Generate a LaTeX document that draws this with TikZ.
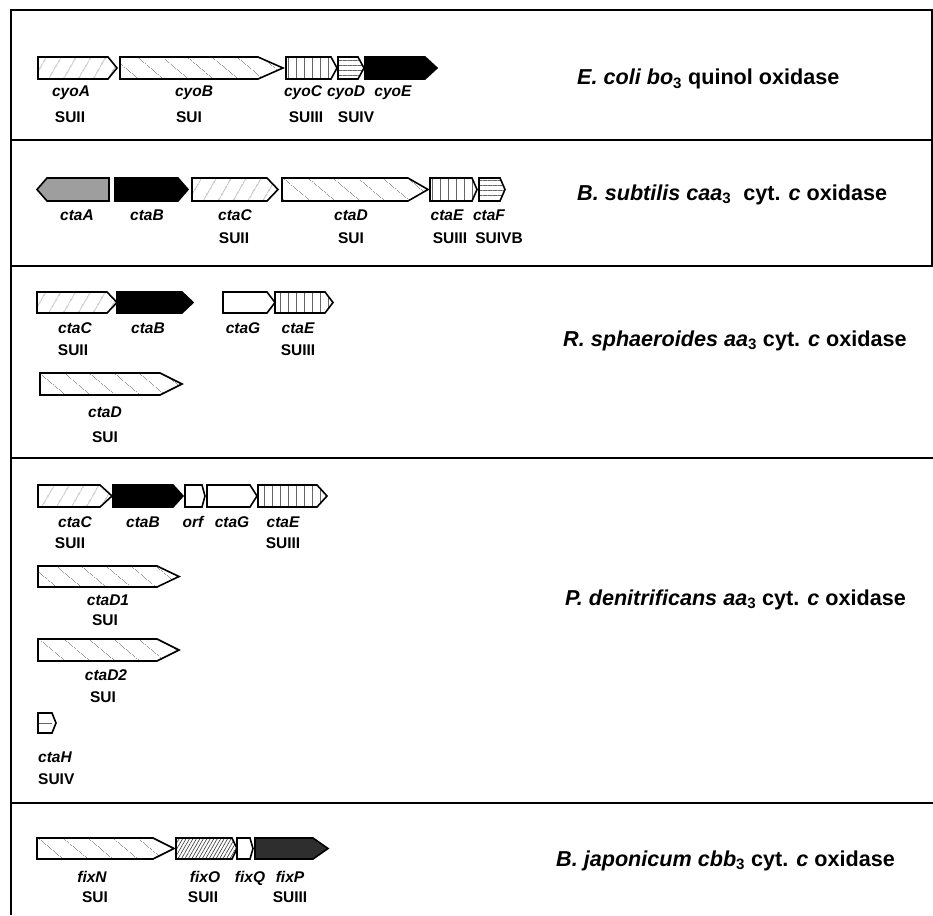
\documentclass[tikz,border=0pt]{standalone}
\usepackage{fontspec}
\setmainfont{Liberation Sans}
\usetikzlibrary{patterns.meta}

% gene arrow pointing right: [style]{x start}{x body end}{x tip}{y top}{y bottom}
\newcommand{\gene}[6][]{%
  \draw[genebox,#1] (#2,#5) -- (#3,#5) -- (#4,{(#5+#6)/2}) -- (#3,#6) -- (#2,#6) -- cycle;}
% gene arrow pointing left: [style]{x tip}{x body start}{x end}{y top}{y bottom}
\newcommand{\geneleft}[6][]{%
  \draw[genebox,#1] (#2,{(#5+#6)/2}) -- (#3,#5) -- (#4,#5) -- (#4,#6) -- (#3,#6) -- cycle;}

\begin{document}
\begin{tikzpicture}[
  x=1pt, y=-1pt,
  frame/.style={line width=1.6pt, black},
  genebox/.style={draw=black, line width=1.6pt, line join=miter},
  fwdhatch/.style={pattern={Lines[angle=60, distance=13pt, line width=0.5pt]}, pattern color=black!70},
  backhatch/.style={pattern={Lines[angle=-40, distance=17pt, line width=0.5pt]}, pattern color=black!70},
  densehatch/.style={pattern={Lines[angle=60, distance=3pt, line width=0.6pt]}, pattern color=black!80},
  vlines/.style={pattern={Lines[angle=90, distance=8pt, line width=0.5pt]}, pattern color=black!60},
  hlines/.style={pattern={Lines[angle=0, distance=5pt, line width=0.5pt]}, pattern color=black!60},
  solid/.style={fill=black},
  stipple/.style={fill=black!38},
  darkstipple/.style={fill=black!82},
  gname/.style={font=\fontsize{15.5}{16}\selectfont\bfseries\itshape, inner sep=0pt, anchor=base},
  suname/.style={font=\fontsize{15.5}{16}\selectfont\bfseries, inner sep=0pt, anchor=base},
  titletext/.style={font=\fontsize{21.6}{24}\selectfont\bfseries, inner sep=0pt, anchor=base west}
]
  \useasboundingbox (0,0) rectangle (933,915);

  % frame and panel separators
  \draw[frame] (11,915) -- (11,10) -- (933,10);
  \draw[frame] (932,10) -- (932,266);
  \draw[frame] (11,140) -- (933,140);
  \draw[frame] (11,266) -- (933,266);
  \draw[frame] (11,458) -- (933,458);
  \draw[frame] (11,803) -- (933,803);

  % E. coli
  \gene[fwdhatch]{38}{108}{117}{57}{79}
  \gene[backhatch]{120}{258}{283}{57}{79}
  \gene[vlines]{286}{331}{337}{57}{79}
  \gene[hlines]{338}{358}{364}{57}{79}
  \gene[solid]{365}{425}{437}{57}{79}
  \node[gname] (cyoA) at (71,97) {cyoA};
  \node[gname] (cyoB) at (194,97) {cyoB};
  \node[gname] (cyoC) at (303,97) {cyoC};
  \node[gname] (cyoD) at (346,97) {cyoD};
  \node[gname] (cyoE) at (393,97) {cyoE};
  \node[suname] (cyoA-su) at (70,122) {SUII};
  \node[suname] (cyoB-su) at (189,122) {SUI};
  \node[suname] (cyoC-su) at (306,122) {SUIII};
  \node[suname] (cyoD-su) at (356,122) {SUIV};
  \node[titletext] (ecoli) at (577,85) {\textit{E. coli bo}\textsubscript{3} quinol oxidase};

  % B. subtilis
  \geneleft[stipple]{37}{47}{109}{178}{201}
  \gene[solid]{115}{178}{188}{178}{201}
  \gene[fwdhatch]{192}{267}{278}{178}{201}
  \gene[backhatch]{282}{408}{428}{178}{201}
  \gene[vlines]{430}{472}{477}{178}{201}
  \gene[hlines]{479}{500}{505}{178}{201}
  \node[gname] (ctaA) at (77,220) {ctaA};
  \node[gname] (ctaB) at (147,220) {ctaB};
  \node[gname] (ctaC) at (235,220) {ctaC};
  \node[gname] (ctaD) at (351,220) {ctaD};
  \node[gname] (ctaE) at (447,220) {ctaE};
  \node[gname] (ctaF) at (489,220) {ctaF};
  \node[suname] (ctaC-su) at (234,243) {SUII};
  \node[suname] (ctaD-su) at (351,243) {SUI};
  \node[suname] (ctaE-su) at (450,243) {SUIII};
  \node[suname] (ctaF-su) at (499,243) {SUIVB};
  \node[titletext] (bsub) at (577,200) {\textit{B. subtilis caa}\textsubscript{3}\ \ cyt. \textit{c} oxidase};

  % R. sphaeroides
  \gene[fwdhatch]{37}{107}{117}{292}{313}
  \gene[solid]{117}{182}{193}{292}{313}
  \gene{223}{267}{275}{292}{313}
  \gene[vlines]{275}{325}{333}{292}{313}
  \gene[backhatch]{40}{160}{182}{373}{395}
  \node[gname] (rs-ctaC) at (75,333) {ctaC};
  \node[gname] (rs-ctaB) at (148,333) {ctaB};
  \node[gname] (rs-ctaG) at (243,333) {ctaG};
  \node[gname] (rs-ctaE) at (298,333) {ctaE};
  \node[suname] (rs-ctaC-su) at (73,355) {SUII};
  \node[suname] (rs-ctaE-su) at (298,355) {SUIII};
  \node[gname] (rs-ctaD) at (105,417) {ctaD};
  \node[suname] (rs-ctaD-su) at (105,442) {SUI};
  \node[titletext] (rsph) at (563,346) {\textit{R. sphaeroides aa}\textsubscript{3} cyt. \textit{c} oxidase};

  % P. denitrificans
  \gene[fwdhatch]{38}{100}{112}{485}{507}
  \gene[solid]{113}{173}{183}{485}{507}
  \gene{185}{202}{205}{485}{507}
  \gene{207}{250}{257}{485}{507}
  \gene[vlines]{258}{317}{327}{485}{507}
  \gene[backhatch]{38}{157}{179}{566}{587}
  \gene[backhatch]{38}{157}{179}{639}{661}
  \gene{38}{52}{56}{713}{733}
  \draw[line width=0.5pt, black!60] (39,723) -- (52,723);
  \node[gname] (pd-ctaC) at (75,527) {ctaC};
  \node[gname] (pd-ctaB) at (143,527) {ctaB};
  \node[gname] (pd-orf) at (193,527) {orf};
  \node[gname] (pd-ctaG) at (232,527) {ctaG};
  \node[gname] (pd-ctaE) at (283,527) {ctaE};
  \node[suname] (pd-ctaC-su) at (70,548) {SUII};
  \node[suname] (pd-ctaE-su) at (283,548) {SUIII};
  \node[gname] (pd-ctaD1) at (108,605) {ctaD1};
  \node[suname] (pd-ctaD1-su) at (105,625) {SUI};
  \node[gname] (pd-ctaD2) at (106,680) {ctaD2};
  \node[suname] (pd-ctaD2-su) at (103,702) {SUI};
  \node[gname, anchor=base west] (pd-ctaH) at (38,762) {ctaH};
  \node[suname, anchor=base west] (pd-ctaH-su) at (38,784) {SUIV};
  \node[titletext] (pden) at (565,605) {\textit{P. denitrificans aa}\textsubscript{3} cyt. \textit{c} oxidase};

  % B. japonicum
  \gene[backhatch]{37}{153}{174}{838}{859}
  \gene[densehatch]{176}{232}{237}{838}{859}
  \gene{237}{250}{253}{838}{859}
  \gene[darkstipple]{255}{313}{328}{838}{859}
  \node[gname] (fixN) at (92,882) {fixN};
  \node[gname] (fixO) at (205,882) {fixO};
  \node[gname] (fixQ) at (250,882) {fixQ};
  \node[gname] (fixP) at (290,882) {fixP};
  \node[suname] (fixN-su) at (95,902) {SUI};
  \node[suname] (fixO-su) at (203,902) {SUII};
  \node[suname] (fixP-su) at (290,902) {SUIII};
  \node[titletext] (bjap) at (556,866) {\textit{B. japonicum cbb}\textsubscript{3} cyt. \textit{c} oxidase};
\end{tikzpicture}
\end{document}
